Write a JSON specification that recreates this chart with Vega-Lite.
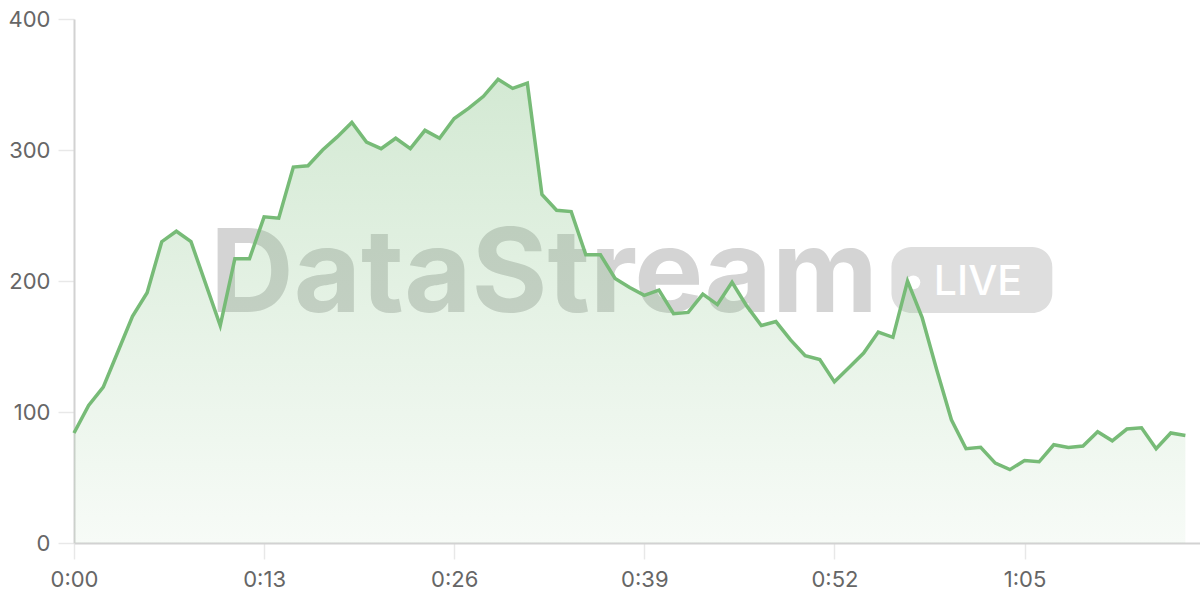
{
  "$schema": "https://vega.github.io/schema/vega-lite/v6.json",
  "width": 1126,
  "height": 524,
  "autosize": {"type": "none"},
  "padding": {"left": 74, "top": 19, "right": 0, "bottom": 57},
  "background": "white",
  "config": {
    "view": {"stroke": null},
    "axis": {
      "labelFont": "Inter",
      "labelFontSize": 22,
      "labelColor": "#666666",
      "labelFlush": false,
      "gridColor": "#e8e8e8",
      "gridWidth": 1.5,
      "tickColor": "#e8e8e8",
      "tickWidth": 1.5,
      "tickSize": 16,
      "domainColor": "#d2d2d2",
      "domainWidth": 2,
      "title": null
    }
  },
  "data": {"values": [
    {"t":0,"v":84},{"t":1,"v":105},{"t":2,"v":119},{"t":3,"v":146},{"t":4,"v":173},
    {"t":5,"v":191},{"t":6,"v":230},{"t":7,"v":238},{"t":8,"v":230},{"t":9,"v":198},
    {"t":10,"v":166},{"t":11,"v":217},{"t":12,"v":217},{"t":13,"v":249},{"t":14,"v":248},
    {"t":15,"v":287},{"t":16,"v":288},{"t":17,"v":300},{"t":18,"v":310},{"t":19,"v":321},
    {"t":20,"v":306},{"t":21,"v":301},{"t":22,"v":309},{"t":23,"v":301},{"t":24,"v":315},
    {"t":25,"v":309},{"t":26,"v":324},{"t":27,"v":332},{"t":28,"v":341},{"t":29,"v":354},
    {"t":30,"v":347},{"t":31,"v":351},{"t":32,"v":266},{"t":33,"v":254},{"t":34,"v":253},
    {"t":35,"v":220},{"t":36,"v":220},{"t":37,"v":202},{"t":38,"v":195},{"t":39,"v":189},
    {"t":40,"v":193},{"t":41,"v":175},{"t":42,"v":176},{"t":43,"v":190},{"t":44,"v":182},
    {"t":45,"v":199},{"t":46,"v":181},{"t":47,"v":166},{"t":48,"v":169},{"t":49,"v":155},
    {"t":50,"v":143},{"t":51,"v":140},{"t":52,"v":123},{"t":53,"v":134},{"t":54,"v":145},
    {"t":55,"v":161},{"t":56,"v":157},{"t":57,"v":200},{"t":58,"v":172},{"t":59,"v":132},
    {"t":60,"v":94},{"t":61,"v":72},{"t":62,"v":73},{"t":63,"v":61},{"t":64,"v":56},
    {"t":65,"v":63},{"t":66,"v":62},{"t":67,"v":75},{"t":68,"v":73},{"t":69,"v":74},
    {"t":70,"v":85},{"t":71,"v":78},{"t":72,"v":87},{"t":73,"v":88},{"t":74,"v":72},
    {"t":75,"v":84},{"t":76,"v":82}
  ]},
  "layer": [
    {
      "data": {"values": [{"label": "DataStream"}]},
      "mark": {"type": "text", "font": "Inter", "fontWeight": "bold", "fontSize": 116, "align": "left", "baseline": "alphabetic", "color": "#d4d4d4"},
      "encoding": {
        "x": {"datum": 9.3, "type": "quantitative"},
        "y": {"datum": 176.3, "type": "quantitative"},
        "text": {"field": "label"}
      }
    },
    {
      "data": {"values": [{}]},
      "mark": {"type": "rect", "cornerRadius": 20, "color": "#dedede"},
      "encoding": {
        "x": {"datum": 55.9, "type": "quantitative"},
        "x2": {"datum": 66.9},
        "y": {"datum": 226, "type": "quantitative"},
        "y2": {"datum": 175.6}
      }
    },
    {
      "data": {"values": [{}]},
      "mark": {"type": "point", "shape": "circle", "filled": true, "opacity": 1, "color": "white", "size": 190},
      "encoding": {
        "x": {"datum": 57.4, "type": "quantitative"},
        "y": {"datum": 199, "type": "quantitative"}
      }
    },
    {
      "data": {"values": [{"label": "LIVE"}]},
      "mark": {"type": "text", "font": "Inter", "fontWeight": 500, "fontSize": 41, "align": "left", "baseline": "alphabetic", "color": "white"},
      "encoding": {
        "x": {"datum": 58.8, "type": "quantitative"},
        "y": {"datum": 189.3, "type": "quantitative"},
        "text": {"field": "label"}
      }
    },
    {
      "mark": {
        "type": "area",
        "color": {
          "gradient": "linear",
          "x1": 0, "y1": 0, "x2": 0, "y2": 1,
          "stops": [
            {"offset": 0, "color": "rgba(119,187,119,0.32)"},
            {"offset": 1, "color": "rgba(119,187,119,0.06)"}
          ]
        }
      },
      "encoding": {
        "x": {
          "field": "t", "type": "quantitative",
          "scale": {"domain": [0, 77], "nice": false, "zero": false},
          "axis": {
            "values": [0, 13, 26, 39, 52, 65],
            "labelPadding": 10,
            "labelExpr": "floor(datum.value/60) + ':' + (datum.value % 60 < 10 ? '0' : '') + (datum.value % 60)"
          }
        },
        "y": {
          "field": "v", "type": "quantitative",
          "scale": {"domain": [0, 400], "nice": false},
          "axis": {"values": [0, 100, 200, 300, 400], "labelPadding": 8}
        }
      }
    },
    {
      "mark": {"type": "line", "color": "#77bb77", "strokeWidth": 3.5, "strokeJoin": "miter"},
      "encoding": {
        "x": {"field": "t", "type": "quantitative"},
        "y": {"field": "v", "type": "quantitative"}
      }
    }
  ]
}
